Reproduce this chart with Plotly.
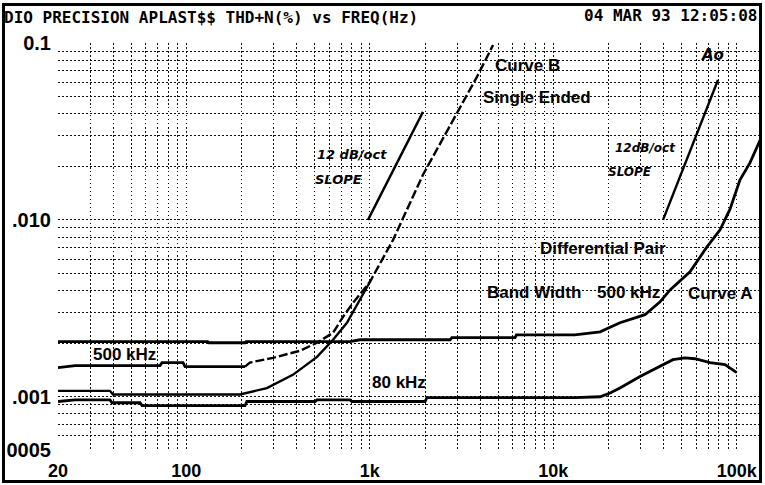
import math
import plotly.graph_objects as go

# ---------------- data ----------------
# Curve A : differential pair, 500 kHz bandwidth
diff500_freq = [20, 131, 133, 209, 212, 780, 885, 2740, 2800, 6190, 6300, 13100, 18000,
                23100, 31600, 34500, 38200, 43300, 55600, 68800, 81100, 91900, 104000,
                118000, 142000]
diff500_thd = [0.00205, 0.00205, 0.00202, 0.00202, 0.00205, 0.00205, 0.0021, 0.0021,
               0.00216, 0.00216, 0.00224, 0.00224, 0.00233, 0.00262, 0.00291, 0.00315,
               0.00344, 0.00402, 0.00508, 0.00704, 0.00878, 0.0115, 0.0168, 0.021, 0.0323]

# Curve B : single ended, 500 kHz bandwidth
se500_freq = [20, 24.8, 71.9, 73.8, 96, 98.5, 209, 222, 297, 417, 516, 631, 715, 811,
              1003, 1138, 1340, 1950, 2506, 2987, 3837, 4700]
se500_thd = [0.00146, 0.0015, 0.0015, 0.00156, 0.00156, 0.00148, 0.00148, 0.00156,
             0.00166, 0.00182, 0.00202, 0.0023, 0.00283, 0.0034, 0.00447, 0.00572,
             0.00771, 0.0180, 0.02904, 0.0403, 0.0643, 0.0974]

# single ended, 80 kHz bandwidth
se80_freq = [20, 38.4, 39.9, 196, 275, 381, 516, 631, 751, 885, 1003]
se80_thd = [0.00108, 0.00108, 0.00103, 0.00103, 0.00112, 0.00133, 0.00168, 0.0021,
            0.00262, 0.00353, 0.00447]

# differential pair, 80 kHz bandwidth
diff80_freq = [20, 24.8, 38.4, 39.4, 56, 57.4, 209, 214, 503, 516, 780, 800, 2000, 2050,
               13100, 18000, 20400, 23100, 29700, 38200, 44900, 52200, 59200, 71500,
               86300, 100000]
diff80_thd = [0.00094, 0.00096, 0.00096, 0.000925, 0.000925, 0.00089, 0.00089, 0.00094,
              0.00094, 0.00096, 0.00096, 0.00094, 0.00094, 0.00099, 0.00099, 0.001,
              0.00105, 0.00112, 0.0013, 0.00148, 0.00162, 0.00166, 0.00164, 0.00156,
              0.00152, 0.00137]

# hand-drawn 12 dB/oct slope references
slope1_freq = [978, 1950]
slope1_thd = [0.0100, 0.0408]
slope2_freq = [39650, 79000]
slope2_thd = [0.0100, 0.0618]

# axis ticks / grid
x_grid = [20, 30, 40, 50, 60, 70, 80, 90,
          100, 200, 300, 400, 500, 600, 700, 800, 900,
          1000, 2000, 3000, 4000, 5000, 6000, 7000, 8000, 9000,
          10000, 20000, 30000, 40000, 50000, 60000, 70000, 80000, 90000, 100000]
x_major_vals = [20, 100, 1000, 10000, 100000]
x_major_text = ["20", "100", "1k", "10k", "100k"]

y_grid = [0.0005, 0.0006, 0.0007, 0.0008, 0.0009,
          0.001, 0.002, 0.003, 0.004, 0.005, 0.006, 0.007, 0.008, 0.009,
          0.01, 0.02, 0.03, 0.04, 0.05, 0.06, 0.07, 0.08, 0.09, 0.1]
y_major_vals = [0.1, 0.01, 0.001, 0.0005]
y_major_text = ["0.1", ".010", ".001", "0005"]

x_text = [x_major_text[x_major_vals.index(v)] if v in x_major_vals else "" for v in x_grid]
y_text = [y_major_text[y_major_vals.index(v)] if v in y_major_vals else "" for v in y_grid]

# ---------------- figure ----------------
W, H = 765, 485
L, R, T, B = 58, 4, 43, 35
PW, PH = W - L - R, H - T - B


def px(x):
    return (x - L) / PW


def py(y):
    return (H - B - y) / PH


fig = go.Figure()
line_style = dict(color="black", width=2.8)


def add(xs, ys, **kw):
    st = dict(line_style)
    st.update(kw)
    fig.add_trace(go.Scatter(x=xs, y=ys, mode="lines", line=st,
                             showlegend=False, hoverinfo="skip"))


add(diff500_freq, diff500_thd)
add(se500_freq[:7], se500_thd[:7])
add(se500_freq[6:], se500_thd[6:], dash="9px,3px", width=2.4)
add(se80_freq, se80_thd, width=2.4)
add(diff80_freq, diff80_thd)
add(slope1_freq, slope1_thd, width=2.4)
add(slope2_freq, slope2_thd, width=2.4)

grid = dict(showgrid=True, gridcolor="#111111", gridwidth=1, griddash="1.5px,2.5px",
            zeroline=False, showline=False, ticks="")

fig.update_xaxes(type="log",
                 range=[math.log10(20), math.log10(20) + PW / 183.5],
                 tickmode="array", tickvals=x_grid, ticktext=x_text,
                 tickfont=dict(family="Liberation Sans", size=18, color="black", weight="bold"),
                 ticklabelstandoff=8, **grid)
fig.update_yaxes(type="log",
                 range=[math.log10(0.0005), math.log10(0.1)],
                 tickmode="array", tickvals=y_grid, ticktext=y_text,
                 tickfont=dict(family="Liberation Sans", size=20, color="black", weight="bold"),
                 ticklabelstandoff=6, **grid)

lab = dict(family="Liberation Sans", size=17, color="black", weight="bold")
hand = dict(family="DejaVu Sans", size=13, color="black", weight="bold", style="italic")
title_font = dict(family="DejaVu Sans Mono", size=16, color="black", weight="bold")

ann = []


def label(text, x, y, font, xanchor="left"):
    ann.append(dict(text=text, x=px(x), y=py(y), xref="paper", yref="paper",
                    xanchor=xanchor, yanchor="middle", showarrow=False, font=font))


label("DIO PRECISION APLAST$$ THD+N(%) vs FREQ(Hz)", 2, 17, title_font)
label("04 MAR 93 12:05:08", 759, 16, title_font, xanchor="right")
label("Curve B", 493, 66, lab)
label("Single Ended", 481, 97, lab)
label("Differential Pair", 538, 248, lab)
label("Band Width", 485, 292, lab)
label("500 kHz", 595, 292, lab)
label("Curve A", 686, 293, lab)
label("500 kHz", 91, 354, lab)
label("80 kHz", 370, 382, lab)
label("Ao", 712, 55, dict(hand, size=15), xanchor="center")
label("12 dB/oct", 315, 155, hand)
label("SLOPE", 313, 179, hand)
label("12dB/oct", 613, 148, dict(hand, size=12))
label("SLOPE", 606, 172, dict(hand, size=12))

# outer frame of the plotter sheet (drawn as an empty bordered annotation box)
ann.append(dict(text="", x=px(382), y=py(242.5), xref="paper", yref="paper",
                xanchor="center", yanchor="middle", showarrow=False,
                width=754, height=474, bordercolor="black", borderwidth=3, borderpad=0))

fig.update_layout(
    width=W, height=H,
    margin=dict(l=L, r=R, t=T, b=B, pad=0),
    paper_bgcolor="white", plot_bgcolor="white",
    annotations=ann,
)

fig.write_html("out.html", config={"displayModeBar": False},
               post_script="document.body.style.margin='0';")
